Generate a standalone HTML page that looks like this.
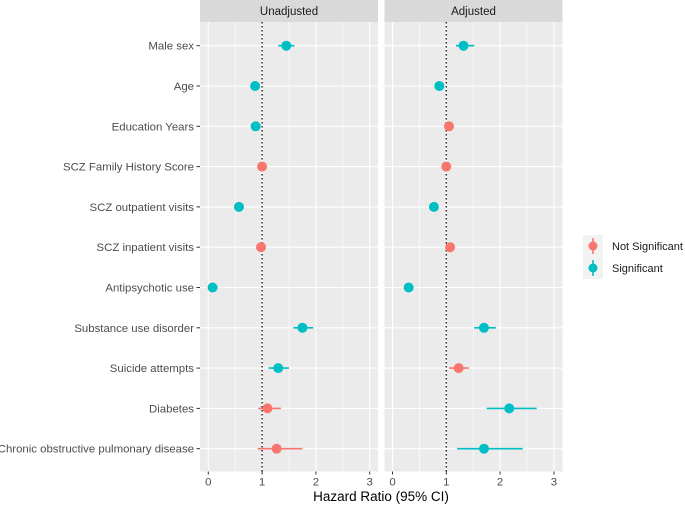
<!DOCTYPE html>
<html><head><meta charset="utf-8"><style>
body{margin:0;background:#fff;}
svg{display:block;font-family:"Liberation Sans",sans-serif;}
</style></head><body>
<svg id="chart" width="685" height="505"></svg>
<script>
const categories=["Male sex","Age","Education Years","SCZ Family History Score","SCZ outpatient visits","SCZ inpatient visits","Antipsychotic use","Substance use disorder","Suicide attempts","Diabetes","Chronic obstructive pulmonary disease"];
const panels=["Unadjusted","Adjusted"];
const unadjEst=[1.45,0.87,0.88,1.0,0.57,0.98,0.08,1.75,1.3,1.1,1.27];
const unadjLo=[1.3,0.84,0.85,0.95,0.53,0.93,0.06,1.58,1.12,0.93,0.92];
const unadjHi=[1.6,0.9,0.91,1.05,0.61,1.03,0.1,1.95,1.5,1.35,1.75];
const unadjSig=[1,1,1,0,1,0,1,1,1,0,0];
const adjEst=[1.32,0.87,1.05,1.0,0.77,1.07,0.3,1.7,1.23,2.17,1.7];
const adjLo=[1.18,0.84,1.0,0.95,0.73,1.02,0.27,1.52,1.05,1.75,1.2];
const adjHi=[1.52,0.9,1.1,1.05,0.81,1.12,0.33,1.92,1.42,2.68,2.42];
const adjSig=[1,1,0,0,1,0,1,1,0,1,1];
const xTicks=[0,1,2,3];
const NS="http://www.w3.org/2000/svg";
const svg=document.getElementById('chart');
function mk(tag,attrs,parent){const e=document.createElementNS(NS,tag);for(const k in attrs)e.setAttribute(k,attrs[k]);(parent||svg).appendChild(e);return e;}
const panelX=[200,384.5], panelW=178, panelTop=22, bottom=471.5;
const x0=[208.3,392.5], unit=53.8;
function xs(p,v){return x0[p]+v*unit;}
function ys(i){return 45.7+i*40.3;}
const colors=["#F8766D","#00BFC4"];
const data=[[unadjEst,unadjLo,unadjHi,unadjSig],[adjEst,adjLo,adjHi,adjSig]];
for(let p=0;p<2;p++){
  const g=mk('g',{});
  
  
  mk('rect',{x:panelX[p],y:0,width:panelW,height:panelTop,fill:'#d9d9d9'},g);
  const st=mk('text',{x:panelX[p]+panelW/2,y:15,'text-anchor':'middle','font-size':11.5,fill:'#1a1a1a'},g);
  st.textContent=panels[p];
  
  
  mk('rect',{x:panelX[p],y:panelTop,width:panelW,height:bottom-panelTop,fill:'#ebebeb'},g);
  for(let t=0;t<xTicks.length-1;t++){const v=(xTicks[t]+xTicks[t+1])/2;mk('line',{x1:xs(p,v),x2:xs(p,v),y1:panelTop,y2:bottom,stroke:'#fff','stroke-width':0.6},g);}
  xTicks.forEach(v=>{
    mk('line',{x1:xs(p,v),x2:xs(p,v),y1:panelTop,y2:bottom,stroke:'#fff','stroke-width':1.1},g);
    mk('line',{x1:xs(p,v),x2:xs(p,v),y1:bottom,y2:bottom+3,stroke:'#333','stroke-width':1},g);
    const tl=mk('text',{x:xs(p,v),y:bottom+14,'text-anchor':'middle','font-size':11.4,fill:'#4d4d4d'},g);
    tl.textContent=v;
    
    
  });
  categories.forEach((c,i)=>{mk('line',{x1:panelX[p],x2:panelX[p]+panelW,y1:ys(i),y2:ys(i),stroke:'#fff','stroke-width':1.1},g);});
  mk('line',{x1:xs(p,1),x2:xs(p,1),y1:panelTop,y2:bottom,stroke:'#111','stroke-width':1.3,'stroke-dasharray':'1.5,2.5'},g);
  const [est,lo,hi,sig]=data[p];
  categories.forEach((c,i)=>{
    const col=colors[sig[i]];
    const l=mk('line',{x1:xs(p,lo[i]),x2:xs(p,hi[i]),y1:ys(i),y2:ys(i),stroke:col,'stroke-width':1.6},g);
    
    
    const pt=mk('circle',{cx:xs(p,est[i]),cy:ys(i),r:5,fill:col},g);
    
    
  });
}
categories.forEach((c,i)=>{
  mk('line',{x1:196.5,x2:200,y1:ys(i),y2:ys(i),stroke:'#333','stroke-width':1});
  const t=mk('text',{x:194,y:ys(i)+4,'text-anchor':'end','font-size':11.4,fill:'#4d4d4d'});
  t.textContent=c;
  
  
});
const xt=mk('text',{x:381,y:501,'text-anchor':'middle','font-size':13.5,fill:'#000'});
xt.textContent="Hazard Ratio (95% CI)";


const lg=mk('g',{});


["Not Significant","Significant"].forEach((s,k)=>{
  const y=246+k*22;
  mk('rect',{x:583,y:y-11,width:20,height:22,fill:'#f2f2f2'},lg);
  mk('line',{x1:593,x2:593,y1:y-8,y2:y+8,stroke:colors[k],'stroke-width':1.6},lg);
  mk('circle',{cx:593,cy:y,r:4.5,fill:colors[k]},lg);
  const t=mk('text',{x:612,y:y+4,'font-size':11,fill:'#1a1a1a'},lg);
  t.textContent=s;
  
  
});
</script>
</body></html>
